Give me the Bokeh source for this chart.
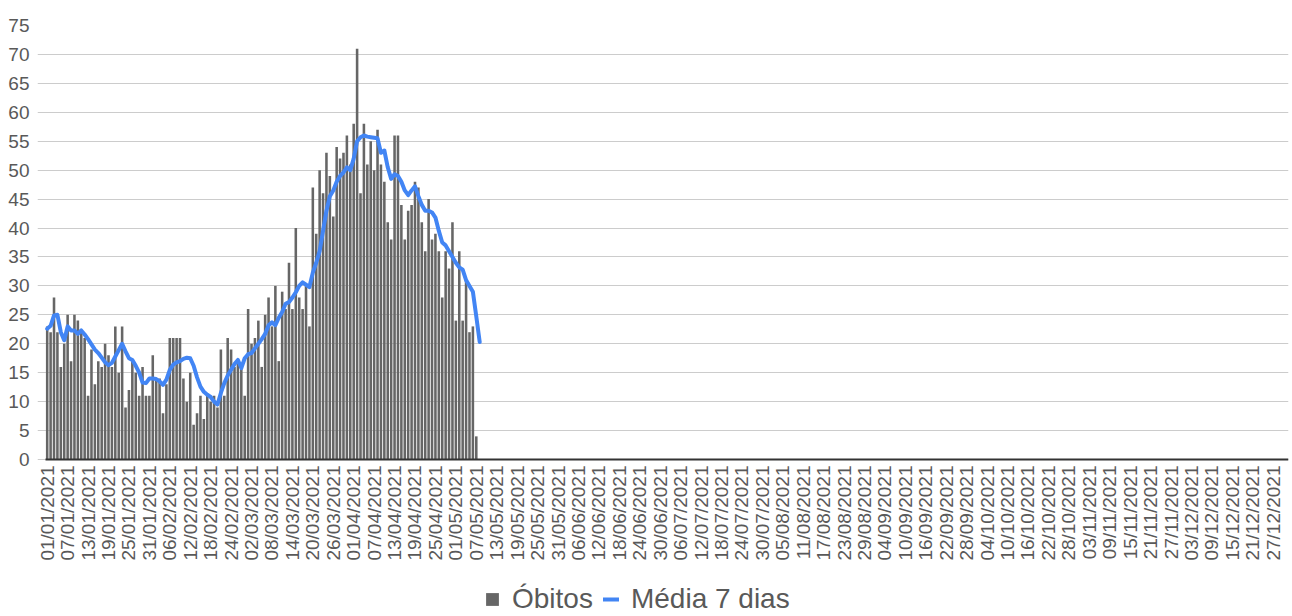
import math
from bokeh.plotting import figure
from bokeh.models import Range1d, FixedTicker, Legend, LegendItem
from bokeh.embed import file_html
from bokeh.resources import INLINE

# ---- data (day index 0 = 01/01/2021) ----
days = list(range(128))
obitos = [23, 22, 28, 22, 16, 20, 25, 17, 25, 24,
          22, 21, 11, 19, 13, 17, 16, 20, 18, 16,
          23, 15, 23, 9, 12, 17, 15, 11, 16, 11,
          11, 18, 14, 14, 8, 13, 21, 21, 21, 21,
          14, 10, 15, 6, 8, 11, 7, 11, 10, 11,
          9, 19, 11, 21, 19, 16, 17, 16, 11, 26,
          20, 21, 24, 16, 25, 28, 23, 30, 17, 29,
          26, 34, 26, 40, 28, 26, 30, 23, 47, 39,
          50, 46, 53, 49, 42, 54, 52, 53, 56, 51,
          58, 71, 46, 58, 51, 55, 50, 57, 51, 48,
          41, 38, 56, 56, 44, 38, 43, 44, 48, 47,
          41, 36, 45, 38, 39, 36, 28, 36, 33, 41,
          24, 36, 24, 31, 22, 23, 4, 0]
media7 = [22.6, 23.1, 24.9, 25.0, 22.0, 20.6, 23.0, 22.3, 22.3, 21.7,
          22.3, 21.6, 20.8, 19.9, 19.0, 18.4, 17.6, 16.8, 16.3, 16.7,
          17.8, 18.9, 20.0, 18.7, 17.5, 17.2, 16.2, 15.0, 13.3, 13.2,
          14.0, 14.0, 13.9, 13.5, 12.9, 13.8, 15.5, 16.4, 16.8, 17.0,
          17.4, 17.6, 17.5, 16.2, 14.2, 12.6, 11.7, 11.2, 10.8, 10.0,
          9.5, 11.5, 13.2, 14.5, 15.5, 16.5, 17.2, 15.8, 17.5, 18.2,
          18.4, 19.2, 20.0, 20.8, 21.7, 23.2, 23.7, 23.2, 24.5, 25.5,
          26.9, 27.2, 28.0, 28.9, 30.0, 30.6, 30.2, 29.8, 32.3, 34.0,
          36.0, 39.5, 43.0, 45.5, 46.5, 48.0, 49.0, 49.6, 50.5, 50.0,
          52.0, 55.0, 55.7, 56.0, 55.8, 55.7, 55.6, 55.5, 53.0, 53.4,
          50.5, 48.5, 49.3, 49.0, 48.0, 46.5, 45.7, 46.5, 47.2, 45.5,
          44.0, 43.0, 43.0, 42.7, 41.8, 39.5, 37.5, 37.0, 36.0, 35.0,
          34.0, 33.2, 32.8, 31.0, 30.0, 29.0, 24.7, 20.3]
tick_days = list(range(0, 361, 6))
tick_labels = ["01/01/2021", "07/01/2021", "13/01/2021", "19/01/2021", "25/01/2021",
               "31/01/2021", "06/02/2021", "12/02/2021", "18/02/2021", "24/02/2021",
               "02/03/2021", "08/03/2021", "14/03/2021", "20/03/2021", "26/03/2021",
               "01/04/2021", "07/04/2021", "13/04/2021", "19/04/2021", "25/04/2021",
               "01/05/2021", "07/05/2021", "13/05/2021", "19/05/2021", "25/05/2021",
               "31/05/2021", "06/06/2021", "12/06/2021", "18/06/2021", "24/06/2021",
               "30/06/2021", "06/07/2021", "12/07/2021", "18/07/2021", "24/07/2021",
               "30/07/2021", "05/08/2021", "11/08/2021", "17/08/2021", "23/08/2021",
               "29/08/2021", "04/09/2021", "10/09/2021", "16/09/2021", "22/09/2021",
               "28/09/2021", "04/10/2021", "10/10/2021", "16/10/2021", "22/10/2021",
               "28/10/2021", "03/11/2021", "09/11/2021", "15/11/2021", "21/11/2021",
               "27/11/2021", "03/12/2021", "09/12/2021", "15/12/2021", "21/12/2021",
               "27/12/2021"]
y_ticks = list(range(0, 76, 5))

FONT = "Liberation Sans"
LABEL_COLOR = "#595959"
X_START, X_END = -0.5, 364.5
PAD_LEFT = 8 / (1243 / 365.0)   # 8px of room so the first date label is not clipped

# frame extends below the zero line so the legend can sit under the date labels
p = figure(frame_width=1251, frame_height=591,
           output_backend="svg", toolbar_location=None,
           x_range=Range1d(X_START - PAD_LEFT, X_END), y_range=Range1d(-27.13, 75),
           min_border_left=37, min_border_right=1, min_border_top=25,
           min_border_bottom=0)
p.outline_line_color = None
p.background_fill_color = "white"

bars = p.vbar(x=days, top=obitos, bottom=0, width=0.75, fill_color="#666666", line_color=None)
line = p.line(x=days, y=media7, line_color="#4285F4", line_width=4,
              line_join="round", line_cap="round")

# x axis drawn at the zero line
p.xaxis.fixed_location = 0
p.xaxis.bounds = (X_START, X_END)
p.xaxis.ticker = FixedTicker(ticks=tick_days)
p.xaxis.major_label_overrides = {d: lab for d, lab in zip(tick_days, tick_labels)}
p.xaxis.major_label_orientation = math.pi / 2
p.xaxis.axis_line_color = "#333333"
p.xaxis.axis_line_width = 2
p.xaxis.major_tick_line_color = None
p.xaxis.minor_tick_line_color = None
p.xaxis.major_tick_out = 0
p.xaxis.major_tick_in = 0
p.xaxis.minor_tick_out = 0
p.xaxis.major_label_text_font = FONT
p.xaxis.major_label_text_font_size = "19px"
p.xaxis.major_label_text_color = LABEL_COLOR
p.xaxis.major_label_standoff = 6

# y axis
p.yaxis.ticker = FixedTicker(ticks=y_ticks)
p.yaxis.axis_line_color = None
p.yaxis.major_tick_line_color = None
p.yaxis.minor_tick_line_color = None
p.yaxis.major_label_text_font = FONT
p.yaxis.major_label_text_font_size = "19px"
p.yaxis.major_label_text_color = LABEL_COLOR
p.yaxis.major_label_standoff = 2

p.xgrid.grid_line_color = None
p.ygrid.ticker = FixedTicker(ticks=y_ticks)
p.ygrid.bounds = (X_START, X_END)
p.ygrid.grid_line_color = "#cccccc"
p.ygrid.grid_line_width = 1

legend = Legend(items=[LegendItem(label="Óbitos", renderers=[bars]),
                       LegendItem(label="Média 7 dias", renderers=[line])],
                orientation="horizontal", location=(447, 1),
                border_line_color=None, background_fill_alpha=0,
                label_text_font=FONT, label_text_font_size="28px",
                label_text_color=LABEL_COLOR, label_height=26,
                glyph_width=16, glyph_height=16, spacing=10, padding=0, margin=0,
                label_standoff=12)
p.add_layout(legend, "center")

open("out.html", "w").write(file_html(p, INLINE))
